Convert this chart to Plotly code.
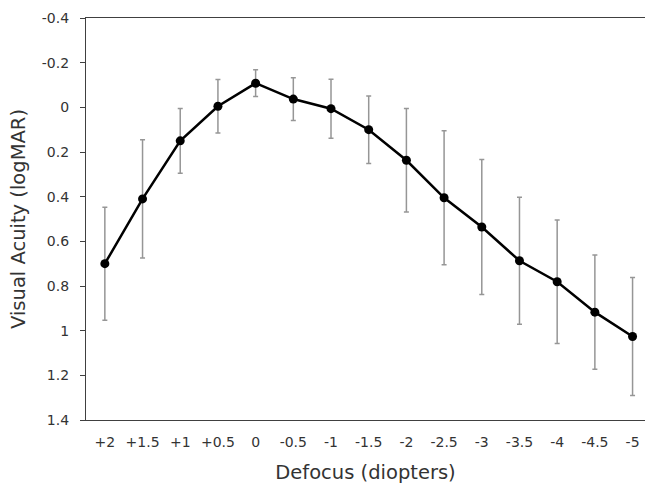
import plotly.graph_objects as go

defocus = ["+2", "+1.5", "+1", "+0.5", "0", "-0.5", "-1", "-1.5", "-2",
           "-2.5", "-3", "-3.5", "-4", "-4.5", "-5"]
acuity = [0.70, 0.41, 0.15, -0.005, -0.108, -0.037, 0.006, 0.100, 0.237,
          0.405, 0.536, 0.687, 0.781, 0.917, 1.026]
sd = [0.253, 0.265, 0.145, 0.12, 0.06, 0.096, 0.132, 0.151, 0.232,
      0.30, 0.302, 0.284, 0.276, 0.256, 0.264]
ytick_vals = [-0.4, -0.2, 0, 0.2, 0.4, 0.6, 0.8, 1, 1.2, 1.4]
ytick_text = ["-0.4", "-0.2", "0", "0.2", "0.4", "0.6", "0.8", "1", "1.2", "1.4"]

fig = go.Figure()
fig.add_trace(go.Scatter(
    x=defocus, y=acuity, mode="lines+markers",
    line=dict(color="black", width=2.5),
    marker=dict(color="black", size=9),
    error_y=dict(type="data", array=sd, visible=True,
                 color="#969696", thickness=1.5, width=2.5),
    showlegend=False,
))

font = "DejaVu Sans, Verdana, sans-serif"
fig.update_layout(
    width=645, height=491,
    margin=dict(l=86, r=0, t=18, b=71),
    paper_bgcolor="white", plot_bgcolor="white",
    font=dict(family=font, color="#333333"),
    xaxis=dict(
        type="category", range=[-0.5, 14.33],
        showline=True, linecolor="#404040", linewidth=1.2, mirror=True,
        showgrid=False, zeroline=False, ticks="",
        tickfont=dict(size=14, color="#333333"),
        ticklabelstandoff=9,
        title=dict(text="Defocus (diopters)", font=dict(size=19.5, color="#333333"), standoff=16),
    ),
    yaxis=dict(
        range=[1.4, -0.4], autorange=False,
        tickvals=ytick_vals, ticktext=ytick_text,
        showline=True, linecolor="#404040", linewidth=1.2,
        showgrid=False, zeroline=False,
        ticks="outside", ticklen=5, tickcolor="#404040",
        tickfont=dict(size=14, color="#333333"),
        ticklabelstandoff=8,
        title=dict(text="Visual Acuity (logMAR)", font=dict(size=19.5, color="#333333"), standoff=10),
    ),
)
fig.write_html("out.html", config={"displayModeBar": False},
               post_script="document.body.style.margin='0';document.body.style.overflow='hidden';")
